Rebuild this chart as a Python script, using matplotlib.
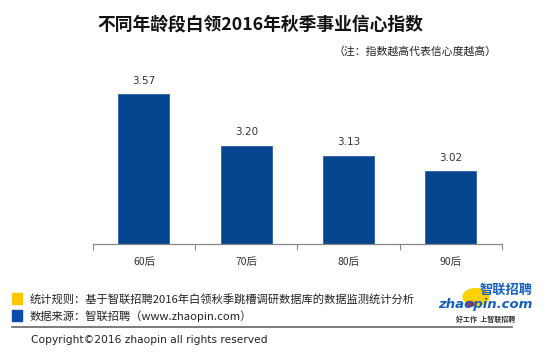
"""
Bar chart of 2016 autumn career confidence index by age group (zhaopin).
"""
import matplotlib
matplotlib.use("Agg")
import matplotlib.pyplot as plt
from matplotlib.patches import Rectangle, Circle

plt.rcParams["font.family"] = ["Noto Sans CJK SC", "DejaVu Sans"]

categories = ["60后", "70后", "80后", "90后"]
values = [3.57, 3.20, 3.13, 3.02]
value_labels = ["3.57", "3.20", "3.13", "3.02"]

TITLE = "不同年龄段白领2016年秋季事业信心指数"
NOTE = "（注：指数越高代表信心度越高）"
RULE = "统计规则：基于智联招聘2016年白领秋季跳槽调研数据库的数据监测统计分析"
SOURCE = "数据来源：智联招聘（www.zhaopin.com）"
COPYRIGHT = "Copyright©2016 zhaopin all rights reserved"

BAR = "#05448f"
W, H = 550, 353

fig = plt.figure(figsize=(W / 100, H / 100), dpi=100)
fig.patch.set_facecolor("white")

ax = fig.add_axes([92.75 / W, 1 - 244 / H, (502 - 92.75) / W, (244 - 75) / H])
x = range(len(categories))
ax.bar(x, values, width=0.5, color=BAR, edgecolor="#2a5fa8", linewidth=0.6)
for i, v in enumerate(values):
    ax.text(i, v + 0.06, value_labels[i], ha="center", va="bottom",
            fontsize=7.5, color="#333333", family="DejaVu Sans")

ax.set_xlim(-0.5, len(categories) - 0.5)
ax.set_ylim(2.5, 3.705)
ax.set_yticks([])
ax.set_xticks(list(x))
ax.set_xticklabels(categories, fontsize=7.5, color="#333333")
ax.set_xticks([i - 0.5 for i in range(len(categories) + 1)], minor=True)
ax.tick_params(axis="x", which="major", length=0, pad=9)
ax.tick_params(axis="x", which="minor", length=4, color="#888888", width=0.8)
for s in ["top", "right", "left"]:
    ax.spines[s].set_visible(False)
ax.spines["bottom"].set_color("#888888")
ax.spines["bottom"].set_linewidth(0.9)

# title and note
fig.text(260 / W, 1 - 25 / H, TITLE, ha="center", va="center",
         fontsize=12.8, fontweight="bold", color="#111111")
fig.text(497 / W, 1 - 51 / H, NOTE, ha="right", va="center",
         fontsize=7.8, color="#222222")

# footer legend squares
fig.patches.append(Rectangle((12 / W, 1 - 304 / H), 10 / W, 11 / H,
                             transform=fig.transFigure, color="#f9c800"))
fig.patches.append(Rectangle((12 / W, 1 - 321 / H), 10 / W, 11 / H,
                             transform=fig.transFigure, color="#0b4aa6"))
fig.text(30 / W, 1 - 299 / H, RULE, ha="left", va="center",
         fontsize=8.1, color="#222222")
fig.text(30 / W, 1 - 316 / H, SOURCE, ha="left", va="center",
         fontsize=8.1, color="#222222")
fig.add_artist(plt.Line2D([12 / W, 512 / W], [1 - 327 / H, 1 - 327 / H],
                          transform=fig.transFigure, color="#666666", lw=1.2))
fig.text(31 / W, 1 - 340 / H, COPYRIGHT, ha="left", va="center",
         fontsize=7.7, color="#222222", family="DejaVu Sans")

# logo
fig.patches.append(Circle((476 / W, 1 - 297 / H), 13 / W,
                          transform=fig.transFigure, color="#ffd200", zorder=1))
fig.patches.append(Circle((470 / W, 1 - 304 / H), 4 / W,
                          transform=fig.transFigure, color="#e02020", zorder=2))
fig.text(506 / W, 1 - 290 / H, "智联招聘", ha="center", va="center",
         fontsize=9.5, fontweight="bold", style="italic", color="#1560c0", zorder=3)
fig.text(485 / W, 1 - 304.5 / H, "zhaopin.com", ha="center", va="center",
         fontsize=9.5, fontweight="bold", style="italic", color="#1560c0",
         family="DejaVu Sans", zorder=3)
fig.text(486 / W, 1 - 319 / H, "好工作  上智联招聘", ha="center", va="center",
         fontsize=5, fontweight="bold", style="italic", color="#333333", zorder=3)

fig.savefig("out.png", dpi=100, facecolor="white")
